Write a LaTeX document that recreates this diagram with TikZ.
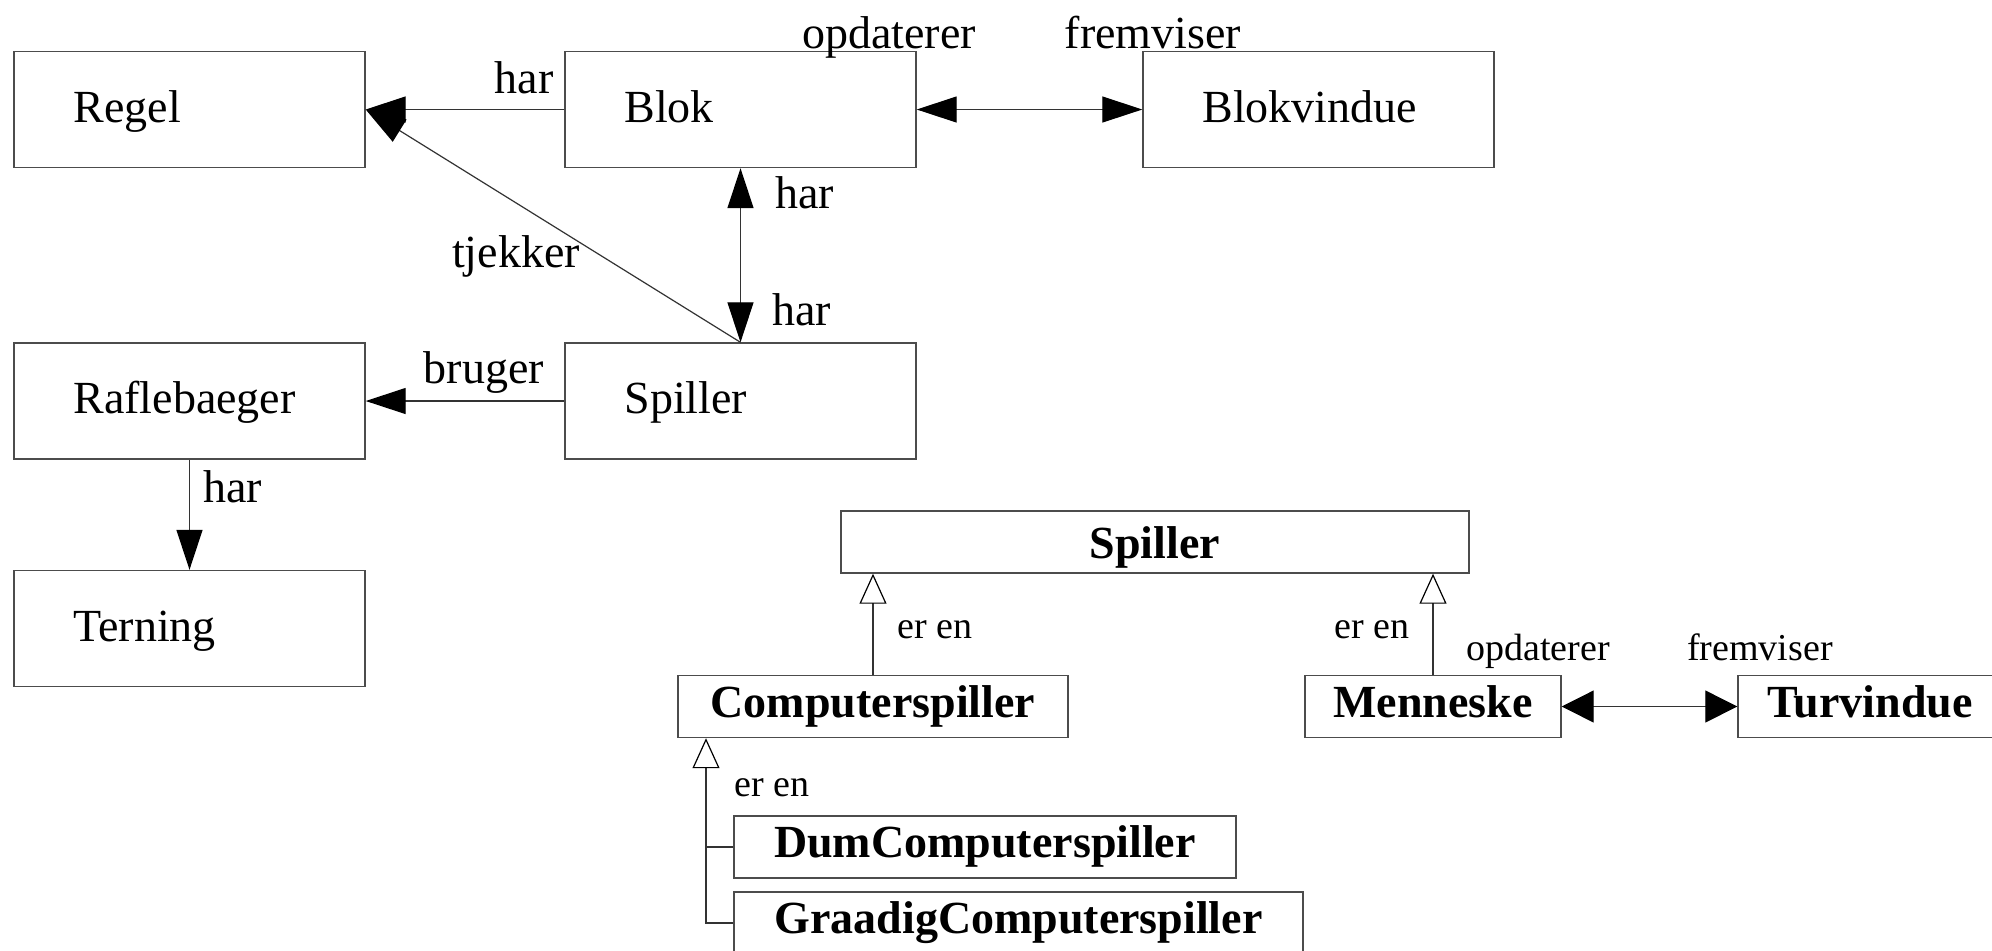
\documentclass[tikz,border=0pt]{standalone}
\usepackage{fontspec}
\setmainfont{Liberation Serif}
\usetikzlibrary{arrows.meta}
\newcommand{\bigsz}{\fontsize{23pt}{27pt}\selectfont}
\newcommand{\smallsz}{\fontsize{19pt}{23pt}\selectfont}
\definecolor{boxline}{gray}{0.3}
\definecolor{connline}{gray}{0.2}
\tikzset{
  topbox/.style={draw=boxline, line width=0.7pt, text width=116pt, inner xsep=29.75pt, inner ysep=0pt,
    minimum height=58pt, align=left, font=\bigsz, text height=17pt, text depth=4.5pt, anchor=center},
  classbox/.style={draw=boxline, line width=0.7pt, inner sep=0pt, minimum height=31pt, font=\bigsz\bfseries,
    text height=16pt, text depth=5.5pt, anchor=center},
  lbl/.style={inner sep=0pt, font=\bigsz},
  slbl/.style={inner sep=0pt, font=\smallsz},
  conn/.style={line width=0.6pt, draw=connline},
  arr/.style={conn, -{Triangle[length=20pt,width=13pt,color=black]}},
  arrboth/.style={conn, {Triangle[length=20pt,width=13pt,color=black]}-{Triangle[length=20pt,width=13pt,color=black]}},
  arrsmall/.style={conn, {Triangle[length=16pt,width=16pt,color=black]}-{Triangle[length=16pt,width=16pt,color=black]}},
  gen/.style={conn, -{Triangle[open,length=15pt,width=13.5pt,fill=white,color=black]}},
}
\begin{document}
\begin{tikzpicture}[x=0.5pt,y=-0.5pt]
\clip (0,0) rectangle (1992,950);
\fill[white] (0,0) rectangle (1992,950);
% top diagram
\node[topbox] (regel) at (189.5,109.5) {Regel};
\node[topbox] (blok) at (740.5,109.5) {Blok};
\node[topbox] (blokv) at (1318.5,109.5) {Blokvindue};
\node[topbox] (rafle) at (189.5,401) {Raflebaeger};
\node[topbox] (spil) at (740.5,401) {Spiller};
\node[topbox] (tern) at (189.5,628.5) {Terning};

\draw[arr] (blok.west) -- (regel.east);
\draw[arrboth] (blok.east) -- (blokv.west);
\draw[arrboth] (blok.south) -- (spil.north);
\draw[arr] (spil.north) -- (regel.east);
\draw[arr] (spil.west) -- (rafle.east);
\draw[arr] (rafle.south) -- (tern.north);

\node[lbl, anchor=base] (l1) at (524,93) {har};
\node[lbl, anchor=base] (l2) at (889,48) {opdaterer};
\node[lbl, anchor=base] (l3) at (1153,48) {fremviser};
\node[lbl, anchor=base west] (l4) at (775,208) {har};
\node[lbl, anchor=base west] (l5) at (772,325) {har};
\node[lbl, anchor=base] (l6) at (516,267) {tjekker};
\node[lbl, anchor=base] (l7) at (484,383) {bruger};
\node[lbl, anchor=base west] (l8) at (203,502) {har};

% bottom diagram
\node[classbox, minimum width=314pt, text height=18pt, text depth=2pt] (sp) at (1155,542) {Spiller};
\node[classbox, minimum width=195pt] (comp) at (873,706.5) {Computerspiller};
\node[classbox, minimum width=128pt] (menn) at (1433,706.5) {Menneske};
\node[classbox, minimum width=132pt] (turv) at (1870,706.5) {Turvindue};
\node[classbox, minimum width=251pt] (dum) at (985,847) {DumComputerspiller};
\node[classbox, minimum width=284.5pt] (graa) at (1018.5,923) {GraadigComputerspiller};

\coordinate (trunk) at (706,737);
\draw[gen] (comp.north) -- (comp.north |- sp.south);
\draw[gen] (menn.north) -- (menn.north |- sp.south);
\draw[gen] (graa.west) -| (trunk |- comp.south);
\draw[conn] (dum.west) -- (dum.west -| trunk);
\draw[arrsmall] (menn.east) -- (turv.west);

\node[slbl, anchor=base west] (e1) at (897,638) {er en};
\node[slbl, anchor=base east] (e2) at (1410,638) {er en};
\node[slbl, anchor=base west] (e3) at (734,796) {er en};
\node[slbl, anchor=base] (o2) at (1538,660) {opdaterer};
\node[slbl, anchor=base] (f2) at (1760,660) {fremviser};
\end{tikzpicture}
\end{document}
